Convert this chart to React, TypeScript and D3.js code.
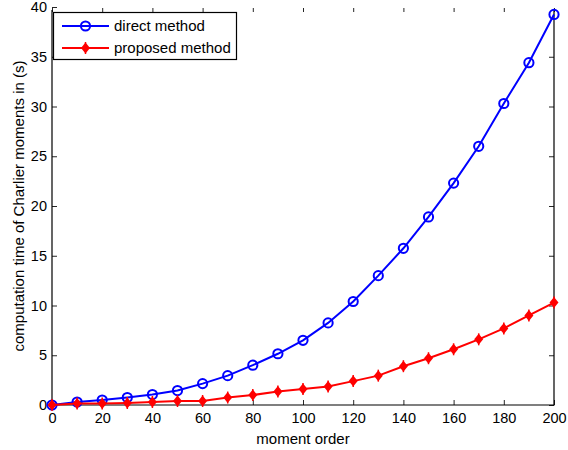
import React, { useRef, useEffect } from "react";
import { select, scaleLinear, axisBottom, axisLeft, axisTop, axisRight, line } from "d3";

const momentOrder = [0, 10, 20, 30, 40, 50, 60, 70, 80, 90, 100, 110, 120, 130, 140, 150, 160, 170, 180, 190, 200];
const directMethod = [0, 0.3, 0.5, 0.75, 1.05, 1.45, 2.15, 2.95, 4.0, 5.15, 6.5, 8.25, 10.4, 13.0, 15.75, 18.9, 22.3, 26.0, 30.3, 34.4, 39.25];
const proposedMethod = [0, 0.15, 0.15, 0.2, 0.3, 0.4, 0.4, 0.75, 1.0, 1.35, 1.6, 1.85, 2.4, 2.95, 3.9, 4.7, 5.6, 6.6, 7.7, 9.0, 10.3];
const xTicks = [0, 20, 40, 60, 80, 100, 120, 140, 160, 180, 200];
const yTicks = [0, 5, 10, 15, 20, 25, 30, 35, 40];
const seriesNames = ["direct method", "proposed method"];

const FONT = "'Liberation Sans', Arial, Helvetica, sans-serif";

function ChartCharlier() {
  const svgRef = useRef<SVGSVGElement>(null);

  useEffect(() => {
    const svg = select(svgRef.current);
    svg.selectAll("*").remove();

    const left = 52, right = 554, top = 7, bottom = 405;
    const frameTop = 10;

    const xScale = scaleLinear().domain([0, 200]).range([left, right]);
    const yScale = scaleLinear().domain([0, 40]).range([bottom, top]);

    // white background
    svg.append("rect").attr("width", 568).attr("height", 450).attr("fill", "#fff");

    // axes (ticks inside like matlab)
    const xAxis = svg.append("g")
      .attr("transform", `translate(0,${bottom})`)
      .call(axisBottom(xScale).tickValues(xTicks).tickSizeInner(-5).tickSizeOuter(0).tickPadding(8));
    const yAxis = svg.append("g")
      .attr("transform", `translate(${left},0)`)
      .call(axisLeft(yScale).tickValues(yTicks).tickSizeInner(-5).tickSizeOuter(0).tickPadding(5));
    const topAxis = svg.append("g")
      .attr("transform", `translate(0,${top + 1})`)
      .call(axisTop(xScale).tickValues(xTicks).tickSizeInner(-4).tickSizeOuter(0).tickFormat(() => ""));
    const rightAxis = svg.append("g")
      .attr("transform", `translate(${right},0)`)
      .call(axisRight(yScale).tickValues(yTicks.filter(d => d < 40)).tickSizeInner(-5).tickSizeOuter(0).tickFormat(() => ""));

    [xAxis, yAxis, topAxis, rightAxis].forEach(g => {
      g.select(".domain").remove();
      g.selectAll(".tick line").attr("stroke", "#262626");
      g.selectAll(".tick text")
        .attr("fill", "#000")
        .style("font-family", FONT)
        .style("font-size", "14.5px");
    });

    // frame
    svg.append("path")
      .attr("d", `M${left},${frameTop}V${bottom}H${right}V${frameTop}`)
      .attr("fill", "none")
      .attr("stroke", "#000")
      .attr("stroke-width", 1.2);

    // axis labels
    svg.append("text")
      .attr("x", (left + right) / 2)
      .attr("y", 444)
      .attr("text-anchor", "middle")
      .style("font-family", FONT)
      .style("font-size", "15px")
      .text("moment order");

    svg.append("text")
      .attr("transform", `translate(23.5,${(top + bottom) / 2}) rotate(-90)`)
      .attr("text-anchor", "middle")
      .style("font-family", FONT)
      .style("font-size", "15px")
      .text("computation time of Charlier moments in (s)");

    const directLine = line<number>()
      .x((d, i) => xScale(momentOrder[i]))
      .y(d => yScale(d));

    const diamond = "M0,-5.5L4.5,0L0,5.5L-4.5,0Z";

    // direct method
    svg.append("path")
      .datum(directMethod)
      .attr("d", directLine)
      .attr("fill", "none")
      .attr("stroke", "#0000ff")
      .attr("stroke-width", 2);
    svg.append("g")
      .selectAll("circle")
      .data(directMethod)
      .join("circle")
      .attr("cx", (d, i) => xScale(momentOrder[i]))
      .attr("cy", d => yScale(d))
      .attr("r", 4.6)
      .attr("fill", "none")
      .attr("stroke", "#0000ff")
      .attr("stroke-width", 2);

    // proposed method
    svg.append("path")
      .datum(proposedMethod)
      .attr("d", directLine)
      .attr("fill", "none")
      .attr("stroke", "#ff0000")
      .attr("stroke-width", 2);
    const redMarks = svg.append("g")
      .selectAll("g")
      .data(proposedMethod)
      .join("g")
      .attr("transform", (d, i) => `translate(${xScale(momentOrder[i])},${yScale(d)})`);
    redMarks.append("path").attr("d", diamond).attr("fill", "#ff0000");
    redMarks.append("line").attr("y1", -6).attr("y2", 6).attr("stroke", "#ff0000").attr("stroke-width", 1.5);

    // legend
    const legend = svg.append("g");
    legend.append("rect")
      .attr("x", 53.5).attr("y", 12.5)
      .attr("width", 183).attr("height", 47)
      .attr("fill", "#fff")
      .attr("stroke", "#000")
      .attr("stroke-width", 1.2);

    const rows = [26, 48];
    seriesNames.forEach((name, i) => {
      const ly = rows[i];
      const color = i === 0 ? "#0000ff" : "#ff0000";
      legend.append("line")
        .attr("x1", 62).attr("x2", 109)
        .attr("y1", ly).attr("y2", ly)
        .attr("stroke", color).attr("stroke-width", 2);
      if (i === 0) {
        legend.append("circle")
          .attr("cx", 85.5).attr("cy", ly).attr("r", 4.6)
          .attr("fill", "none").attr("stroke", color).attr("stroke-width", 2);
      } else {
        const m = legend.append("g").attr("transform", `translate(85.5,${ly})`);
        m.append("path").attr("d", diamond).attr("fill", color);
        m.append("line").attr("y1", -6).attr("y2", 6).attr("stroke", color).attr("stroke-width", 1.5);
      }
      legend.append("text")
        .attr("x", 114)
        .attr("y", ly)
        .attr("dy", "0.36em")
        .style("font-family", FONT)
        .style("font-size", "15px")
        .text(name);
    });
  }, []);

  return (
    <svg
      ref={svgRef}
      width={568}
      height={450}
      style={{ position: "absolute", left: 0, top: 0, display: "block" }}
    />
  );
}

export default function App() {
  return <ChartCharlier />;
}
